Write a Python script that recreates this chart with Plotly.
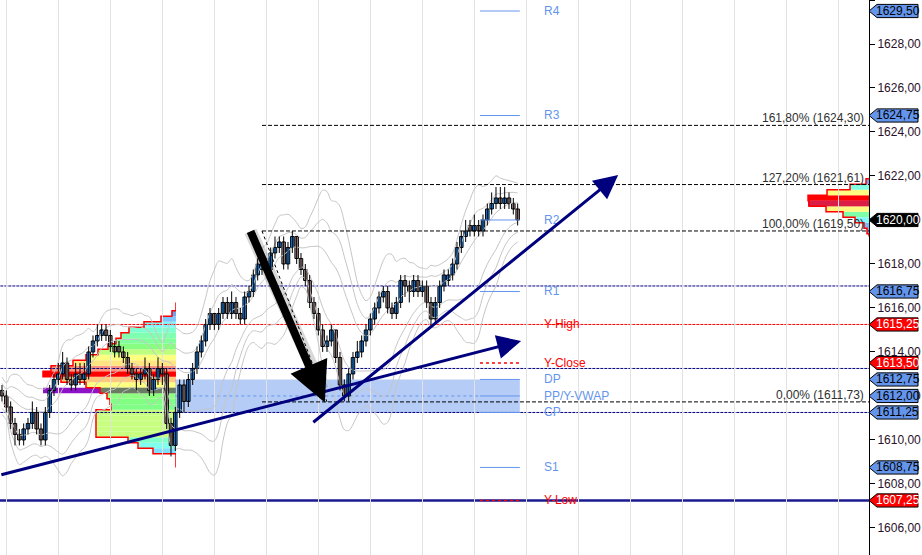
import pandas as pd
import plotly.graph_objects as go

# 5-minute bars of the session (price in index points)
bar_open = [
    1612.25, 1612.0, 1611.5, 1610.75, 1610.25, 1610.0, 1610.5, 1610.75, 1611.25, 1610.5,
    1610.0, 1611.25, 1612.25, 1612.75, 1613.0, 1613.5, 1612.75, 1612.5, 1613.0, 1612.75,
    1613.0, 1614.0, 1614.5, 1614.75, 1615.0, 1614.75, 1614.25, 1614.25, 1614.0, 1613.75,
    1613.25, 1613.0, 1612.75, 1613.0, 1613.25, 1612.25, 1612.75, 1613.25, 1613.0, 1610.75,
    1609.75, 1611.25, 1612.5, 1611.75, 1612.75, 1613.25, 1614.0, 1614.5, 1615.25, 1615.75,
    1615.25, 1615.75, 1616.25, 1615.75, 1616.25, 1615.75, 1615.5, 1616.5, 1616.75, 1617.5,
    1617.75, 1618.0, 1617.75, 1618.5, 1618.75, 1619.0, 1618.0, 1618.75, 1619.25, 1618.25,
    1617.75, 1617.25, 1616.25, 1615.75, 1615.0, 1614.25, 1614.5, 1615.0, 1613.75, 1612.5,
    1612.0, 1613.0, 1613.75, 1614.0, 1614.5, 1615.0, 1615.5, 1616.0, 1616.5, 1616.75,
    1616.0, 1615.75, 1616.25, 1617.25, 1617.0, 1616.75, 1617.25, 1616.75, 1617.0, 1616.25,
    1615.5, 1616.25, 1617.0, 1617.25, 1617.5, 1618.0, 1618.75, 1619.25, 1619.75, 1619.5,
    1619.75, 1619.5, 1620.0, 1620.5, 1620.75, 1621.0, 1620.75, 1621.0, 1620.75, 1620.5,
]
bar_high = [
    1612.5, 1612.25, 1611.75, 1611.0, 1610.5, 1610.75, 1611.0, 1611.75, 1611.5, 1610.75,
    1611.5, 1612.5, 1613.0, 1613.5, 1614.0, 1613.75, 1613.0, 1613.5, 1613.5, 1613.5,
    1614.25, 1614.75, 1615.25, 1615.25, 1615.25, 1615.0, 1614.5, 1614.5, 1614.25, 1614.0,
    1613.5, 1613.25, 1613.25, 1613.75, 1613.5, 1613.0, 1613.75, 1613.5, 1613.25, 1611.0,
    1611.5, 1612.75, 1612.75, 1613.0, 1613.5, 1614.25, 1614.75, 1615.5, 1616.0, 1615.75,
    1616.0, 1616.5, 1616.5, 1616.75, 1616.5, 1616.0, 1616.75, 1617.0, 1617.75, 1618.25,
    1618.5, 1618.25, 1618.75, 1619.25, 1619.25, 1619.25, 1619.0, 1619.5, 1619.25, 1618.5,
    1618.0, 1617.5, 1616.5, 1616.0, 1615.25, 1614.75, 1615.25, 1615.0, 1614.0, 1612.75,
    1613.25, 1614.0, 1614.5, 1614.75, 1615.25, 1615.75, 1616.25, 1616.75, 1617.0, 1617.0,
    1616.25, 1616.5, 1617.5, 1617.5, 1617.25, 1617.5, 1617.5, 1617.25, 1617.25, 1616.5,
    1616.5, 1617.25, 1617.75, 1617.75, 1618.25, 1619.0, 1619.5, 1620.0, 1620.0, 1620.25,
    1620.0, 1620.25, 1620.75, 1621.25, 1621.5, 1621.5, 1621.5, 1621.25, 1621.0, 1620.75,
]
bar_low = [
    1611.75, 1611.25, 1610.5, 1609.75, 1609.75, 1609.75, 1610.25, 1610.5, 1610.25, 1609.75,
    1609.75, 1611.0, 1612.0, 1612.5, 1612.75, 1612.5, 1612.25, 1612.25, 1612.5, 1612.5,
    1612.75, 1613.75, 1614.25, 1614.5, 1614.5, 1614.0, 1613.75, 1613.75, 1613.5, 1613.0,
    1612.75, 1612.25, 1612.5, 1612.75, 1612.0, 1612.0, 1612.5, 1612.5, 1610.5, 1609.25,
    1609.5, 1611.0, 1611.25, 1611.5, 1612.5, 1613.0, 1613.75, 1614.25, 1615.0, 1615.0,
    1615.0, 1615.5, 1615.5, 1615.5, 1615.5, 1615.25, 1615.25, 1616.25, 1616.5, 1617.25,
    1617.5, 1617.5, 1617.5, 1618.25, 1618.5, 1617.75, 1617.75, 1618.5, 1618.0, 1617.5,
    1617.0, 1616.0, 1615.5, 1614.75, 1614.0, 1614.0, 1614.25, 1613.5, 1612.25, 1611.75,
    1611.75, 1612.75, 1613.5, 1613.75, 1614.25, 1614.75, 1615.25, 1615.75, 1616.25, 1615.75,
    1615.5, 1615.5, 1616.0, 1616.5, 1616.25, 1616.5, 1616.5, 1616.5, 1616.0, 1615.25,
    1615.25, 1616.0, 1616.75, 1617.0, 1617.25, 1617.75, 1618.5, 1619.0, 1619.25, 1619.25,
    1619.25, 1619.25, 1619.75, 1620.25, 1620.5, 1620.5, 1620.5, 1620.5, 1620.25, 1619.75,
]
bar_close = [
    1612.0, 1611.5, 1610.75, 1610.25, 1610.0, 1610.5, 1610.75, 1611.25, 1610.5, 1610.0,
    1611.25, 1612.25, 1612.75, 1613.0, 1613.5, 1612.75, 1612.5, 1613.0, 1612.75, 1613.0,
    1614.0, 1614.5, 1614.75, 1615.0, 1614.75, 1614.25, 1614.0, 1614.0, 1613.75, 1613.25,
    1613.0, 1612.75, 1613.0, 1613.25, 1612.25, 1612.75, 1613.25, 1613.0, 1610.75, 1609.75,
    1611.25, 1612.5, 1611.75, 1612.75, 1613.25, 1614.0, 1614.5, 1615.25, 1615.75, 1615.25,
    1615.75, 1616.25, 1615.75, 1616.25, 1615.75, 1615.5, 1616.5, 1616.75, 1617.5, 1618.0,
    1618.0, 1617.75, 1618.5, 1618.75, 1619.0, 1618.0, 1618.75, 1619.25, 1618.25, 1617.75,
    1617.25, 1616.25, 1615.75, 1615.0, 1614.25, 1614.5, 1615.0, 1613.75, 1612.5, 1612.0,
    1613.0, 1613.75, 1614.0, 1614.5, 1615.0, 1615.5, 1616.0, 1616.5, 1616.75, 1616.0,
    1615.75, 1616.25, 1617.25, 1617.0, 1616.75, 1617.25, 1616.75, 1617.0, 1616.25, 1615.5,
    1616.25, 1617.0, 1617.5, 1617.5, 1618.0, 1618.75, 1619.25, 1619.5, 1619.5, 1619.75,
    1619.5, 1620.0, 1620.5, 1620.75, 1621.0, 1620.75, 1621.0, 1620.75, 1620.5, 1620.0,
]
bar_index = list(range(len(bar_close)))
session_start_bar = 40

# previous session volume profile (left) and current session profile (right)
prev_profile_price = [
    1609.5, 1609.75, 1610.0, 1610.25, 1610.5, 1610.75, 1611.0, 1611.25, 1611.5, 1611.75,
    1612.0, 1612.25, 1612.5, 1612.75, 1613.0, 1613.25, 1613.5, 1613.75, 1614.0, 1614.25,
    1614.5, 1614.75, 1615.0, 1615.25, 1615.5, 1615.75,
]
prev_profile_volume = [
    230, 380, 480, 800, 800, 800, 800, 800, 650, 660,
    690, 760, 900, 1150, 1330, 1250, 1030, 900, 780, 680,
    600, 550, 470, 320, 150, 40,
]
prev_profile_low, prev_profile_high = 1608.75, 1616.25
prev_vwap_row = 1612.25

cur_profile_price = [1619.5, 1619.75, 1620.0, 1620.25, 1620.5, 1620.75, 1621.0, 1621.25, 1621.5, 1621.75]
cur_profile_volume = [20, 50, 140, 260, 430, 600, 610, 420, 190, 30]
cur_profile_low, cur_profile_high = 1619.25, 1621.875
cur_vwap_row = 1620.75

# pivot / yesterday levels
level_names = ['R4', 'R3', 'R2', 'R1', 'Y-High', 'Y-Close', 'DP', 'PP/Y-VWAP', 'CP', 'S1', 'Y-Low']
level_values = [1629.50, 1624.75, 1620.00, 1616.75, 1615.25, 1613.50, 1612.75, 1612.00, 1611.25, 1608.75, 1607.25]
value_area_lines = [1617.00, 1613.25, 1611.25]
support_line = 1607.25

# fibonacci extension
fib_ratio = [0.0, 1.0, 1.272, 1.618]
fib_price = [1611.73, 1619.50, 1621.61, 1624.30]
fib_anchor_bar = [60, 75]

# hand drawn trend lines and arrow
trend_start_bar = [-0.5, 71.5]
trend_start_price = [1608.40, 1610.75]
trend_end_bar = [119.8, 142.2]
trend_end_price = [1614.50, 1622.05]
arrow_start = (57.2, 1619.55)
arrow_end = (74.5, 1611.70)

BLUE = '#6495ED'
NAVY = '#00007F'
RED = '#FF0000'
FONT = 'Liberation Sans, Arial, sans-serif'
PROFILE_SCALE = [
    [0.0, '#6495ED'], [0.12, '#80C8FF'], [0.25, '#80FFFF'], [0.4, '#80FFB8'],
    [0.5, '#80FF80'], [0.6, '#C8FF80'], [0.68, '#FFFF80'], [0.85, '#FFD080'],
    [0.95, '#FF9080'], [1.0, '#FF0000'],
]


def fmt(v):
    return f'{v:.2f}'.replace('.', ',')


def profile_outline(prices, vols, low, high, half=0.125):
    xs, ys = [0, 0], [low, prices[0] - half]
    for p, v in zip(prices, vols):
        xs += [v, v]
        ys += [p - half, p + half]
    xs += [0, 0]
    ys += [prices[-1] + half, high]
    return xs, ys


def add_profile(fig, axis, prices, vols, low, high, vwap_row, vwap_color, overlay_color):
    vmax = max(vols)
    fig.add_trace(go.Bar(y=[vwap_row], x=[vmax], orientation='h', width=0.25, xaxis=axis, yaxis='y',
                         marker=dict(color=vwap_color, line_width=0), hoverinfo='skip'))
    fig.add_trace(go.Bar(y=prices, x=vols, orientation='h', width=0.25, xaxis=axis, yaxis='y',
                         marker=dict(color=vols, colorscale=PROFILE_SCALE, cmin=0, cmax=vmax, line_width=0),
                         hoverinfo='skip'))
    row_vol = vols[prices.index(vwap_row)]
    fig.add_trace(go.Bar(y=[vwap_row], x=[row_vol], orientation='h', width=0.25, xaxis=axis, yaxis='y',
                         marker=dict(color=overlay_color, line_width=0), hoverinfo='skip'))
    ox, oy = profile_outline(prices, vols, low, high)
    fig.add_trace(go.Scatter(x=ox, y=oy, mode='lines', xaxis=axis, yaxis='y',
                             line=dict(color=RED, width=1.5), hoverinfo='skip'))


fig = go.Figure()

add_profile(fig, 'x', prev_profile_price, prev_profile_volume, prev_profile_low, prev_profile_high,
            prev_vwap_row, '#8E12C8', 'rgba(95,105,95,0.88)')
add_profile(fig, 'x2', cur_profile_price, cur_profile_volume, cur_profile_low, cur_profile_high,
            cur_vwap_row, '#8E12C8', 'rgba(150,0,120,0.35)')

# bollinger style envelope
closes = pd.Series(bar_close)
mid = closes.rolling(12, min_periods=1).mean()
sd = closes.rolling(12, min_periods=2).std().bfill()
for k in (0.8, 1.6, 2.4):
    for sign in (1, -1):
        fig.add_trace(go.Scatter(x=bar_index, y=mid + sign * k * sd, mode='lines', xaxis='x3', yaxis='y',
                                 line=dict(color='#c6c6c6', width=1, shape='spline'), hoverinfo='skip'))

# candles: wicks, then bodies drawn as bars on the price axis
wick_x, wick_y = [], []
for i, hi, lo in zip(bar_index, bar_high, bar_low):
    wick_x += [i, i, None]
    wick_y += [lo, hi, None]
fig.add_trace(go.Scatter(x=wick_x, y=wick_y, mode='lines', xaxis='x3', yaxis='y',
                         line=dict(color='black', width=1), hoverinfo='skip'))
body_base = [min(o, c) for o, c in zip(bar_open, bar_close)]
body_size = [max(abs(c - o), 0.04) for o, c in zip(bar_open, bar_close)]
body_color = ['#1E90FF' if c >= o else '#B09494' for o, c in zip(bar_open, bar_close)]
fig.add_trace(go.Bar(x=bar_index, y=body_size, base=body_base, width=0.8, xaxis='x3', yaxis='y',
                     marker=dict(color=body_color, line=dict(color='black', width=1)), hoverinfo='skip'))

shapes = []
# DP-CP zone and PP dotted line
shapes.append(dict(type='rect', xref='x3', yref='y', x0=session_start_bar, x1=119.5,
                   y0=level_values[8], y1=level_values[6], fillcolor='rgba(100,149,237,0.48)',
                   line_width=0, layer='below'))
shapes.append(dict(type='line', xref='x3', yref='y', x0=session_start_bar, x1=110.3,
                   y0=level_values[7], y1=level_values[7], line=dict(color=BLUE, width=1, dash='dot'),
                   layer='below'))
for v in value_area_lines:
    shapes.append(dict(type='line', xref='x3', yref='y', x0=-5, x1=250, y0=v, y1=v,
                       line=dict(color=NAVY, width=1, dash='3px,1px'), layer='below'))
shapes.append(dict(type='line', xref='x3', yref='y', x0=-5, x1=250, y0=level_values[4], y1=level_values[4],
                   line=dict(color=RED, width=1, dash='3px,1px'), layer='below'))
shapes.append(dict(type='line', xref='x3', yref='y', x0=-5, x1=250, y0=support_line, y1=support_line,
                   line=dict(color='#1a1a90', width=2.5), layer='below'))

annotations = []
for name, v in zip(level_names, level_values):
    is_y = name.startswith('Y-')
    color = RED if is_y else BLUE
    if name != 'Y-High':
        shapes.append(dict(type='line', xref='x3', yref='y', x0=110.3, x1=119.5, y0=v, y1=v,
                           line=dict(color=color, width=1.5 if is_y else 1, dash='dot' if is_y else 'solid')))
    annotations.append(dict(x=124.6, y=v, xref='x3', yref='y', text=name, showarrow=False,
                            xanchor='left', yanchor='middle', font=dict(family=FONT, size=12, color=color)))

# fibonacci lines
for r, p in zip(fib_ratio, fib_price):
    shapes.append(dict(type='line', xref='x3', yref='y', x0=fib_anchor_bar[0], x1=250, y0=p, y1=p,
                       line=dict(color='black', width=1, dash='4px,2px')))
    annotations.append(dict(x=0.9965, y=p, xref='paper', yref='y', text=f'{fmt(r * 100)}% ({fmt(p)})',
                            showarrow=False, xanchor='right', yanchor='bottom', yshift=-2,
                            font=dict(family=FONT, size=12, color='#303030')))
shapes.append(dict(type='line', xref='x3', yref='y', x0=fib_anchor_bar[0], x1=fib_anchor_bar[1],
                   y0=fib_price[1], y1=fib_price[0], line=dict(color='black', width=1, dash='dot')))

# price tags on the axis
tags = []
for name, v in zip(level_names, level_values):
    if name == 'R2':
        continue
    tags.append((v, RED if name.startswith('Y-') else BLUE, 'white' if name.startswith('Y-') else 'black'))
tags.append((bar_close[-1], 'black', 'white'))
h = 0.3
for v, fill, txt in tags:
    shapes.append(dict(type='path', xref='paper', yref='y', layer='above',
                       path=f'M 1.0,{v} L 1.0092,{v + h} L 1.0564,{v + h} L 1.0564,{v - h} L 1.0092,{v - h} Z',
                       fillcolor=fill, line=dict(color='black', width=1)))
    annotations.append(dict(x=1.0328, y=v, xref='paper', yref='y', text=fmt(v), showarrow=False,
                            xanchor='center', yanchor='middle', font=dict(family=FONT, size=12, color=txt)))

# trend lines with arrow heads
for sb, sp, eb, ep in zip(trend_start_bar, trend_start_price, trend_end_bar, trend_end_price):
    annotations.append(dict(x=eb, y=ep, ax=sb, ay=sp, xref='x3', yref='y', axref='x3', ayref='y',
                            text='', showarrow=True, arrowhead=2, arrowsize=1.6, arrowwidth=3,
                            arrowcolor=NAVY, standoff=0))
annotations.append(dict(x=arrow_end[0] - 0.6, y=arrow_end[1] + 0.6, ax=arrow_start[0], ay=arrow_start[1],
                        xref='x3', yref='y', axref='x3', ayref='y', text='', showarrow=True,
                        arrowhead=0, arrowwidth=13, arrowcolor='rgba(0,0,0,0.15)', standoff=0))
annotations.append(dict(x=arrow_end[0], y=arrow_end[1], ax=arrow_start[0], ay=arrow_start[1],
                        xref='x3', yref='y', axref='x3', ayref='y', text='', showarrow=True,
                        arrowhead=2, arrowsize=1.0, arrowwidth=8, arrowcolor='black', standoff=0))

fig.update_layout(
    width=922, height=555,
    margin=dict(l=0, r=53, t=0, b=0),
    paper_bgcolor='white', plot_bgcolor='rgba(0,0,0,0)',
    showlegend=False, barmode='overlay', separators=',.', hovermode=False,
    xaxis=dict(domain=[0, 0.2025], range=[1760, 0], visible=False, anchor='y'),
    xaxis2=dict(domain=[0.9287, 1], range=[620, 0], visible=False, anchor='y'),
    xaxis3=dict(domain=[0, 1], range=[-0.46, 200.08], anchor='y', showgrid=True, gridcolor='#e2e2e2',
                tick0=1.15, dtick=12, showticklabels=False, ticks='', zeroline=False, showline=False),
    yaxis=dict(range=[1604.77, 1630], side='right', anchor='x3', tick0=1604, dtick=2, tickformat='.2f',
               ticks='outside', ticklen=5, tickcolor='black', showline=True, linecolor='black',
               showgrid=False, zeroline=False, tickfont=dict(family=FONT, size=12, color='#2a102a')),
    yaxis2=dict(range=[1604.77, 1630], overlaying='y', side='right', anchor='x3', tick0=1604, dtick=6,
                showgrid=True, gridcolor='#e2e2e2', showticklabels=False, ticks='', showline=False,
                zeroline=False),
    shapes=shapes,
    annotations=annotations,
)

fig.write_html('out.html', config={'displayModeBar': False},
               post_script="document.body.style.margin='0';")
